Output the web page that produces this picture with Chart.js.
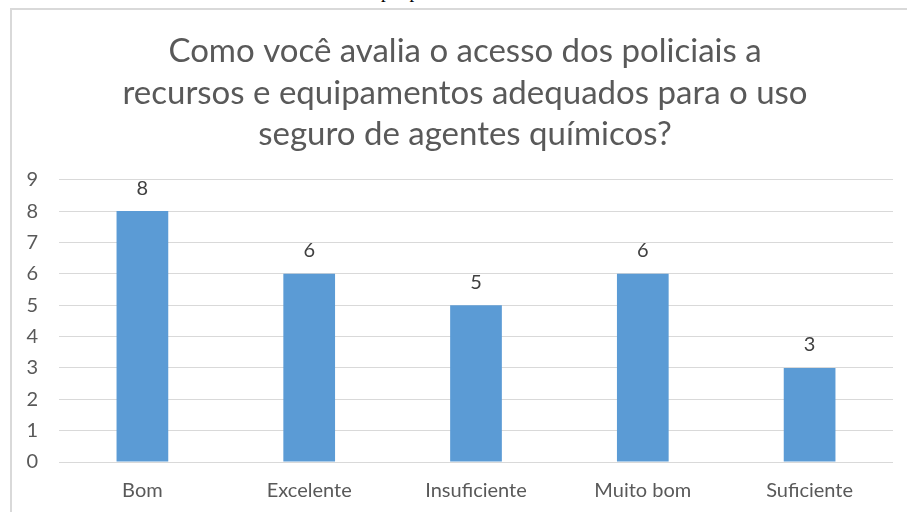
<!DOCTYPE html>
<html>
<head>
<meta charset="utf-8">
<script src="https://cdn.jsdelivr.net/npm/chart.js@4"></script>
<style>
  body { margin: 0; background: #fff; }
  .wrap { position: relative; width: 907px; height: 512px; overflow: hidden; }
  .frame { position: absolute; left: 10px; top: 8px; width: 910px; height: 520px; border: 2px solid #d9d9d9; box-sizing: border-box; }
  .cut { position: absolute; left: 381px; top: -19px; font: 19px "Liberation Serif"; color: #000; }
  canvas { position: absolute; left: 0; top: 0; }
</style>
</head>
<body>
<div class="wrap">
  <div class="cut">poup</div>
  <div class="frame"></div>
  <canvas id="myChart" width="907" height="512"></canvas>
</div>
<script>
const categorias = ['Bom', 'Excelente', 'Insuficiente', 'Muito bom', 'Suficiente'];
const respostas = [8, 6, 5, 6, 3];
const titulo = ['Como você avalia o acesso dos policiais a', 'recursos e equipamentos adequados para o uso', 'seguro de agentes químicos?'];

const ctx = document.getElementById("myChart");

// rótulo de valor em cima de cada barra
const valoresPlugin = {
  id: 'valores',
  afterLayout(chart) {
    // centra o título um pouco mais à direita, como no original
    chart.titleBlock.left = 37;
    chart.titleBlock.right = chart.chartArea.right;
  },
  afterDatasetsDraw(chart) {
    const c = chart.ctx;
    const meta = chart.getDatasetMeta(0);
    c.save();
    c.font = '20px Lato';
    c.fillStyle = '#404040';
    c.textAlign = 'center';
    c.textBaseline = 'middle';
    meta.data.forEach((bar, i) => {
      c.fillText(chart.data.datasets[0].data[i], bar.x, bar.y - 23);
    });
    c.restore();
  }
};

let myChart = new Chart(ctx, {
  type: 'bar',
  data: {
    labels: categorias,
    datasets: [{
      data: respostas,
      backgroundColor: '#5B9BD5',
      borderWidth: 0,
      categoryPercentage: 1,
      barPercentage: 0.31
    }]
  },
  options: {
    responsive: false,
    animation: false,
    layout: { padding: { left: 0, right: 14, top: 0, bottom: 0 } },
    plugins: {
      legend: { display: false },
      tooltip: { enabled: false },
      title: {
        display: true,
        text: titulo,
        color: '#595959',
        font: { family: 'Lato', size: 33, weight: 'normal', lineHeight: 1.27 },
        padding: { top: 30, bottom: 24 }
      }
    },
    scales: {
      x: {
        grid: { display: false },
        border: { display: false },
        ticks: { color: '#595959', font: { family: 'Lato', size: 20 }, padding: 9 },
        afterFit: (s) => { s.height = 50; }
      },
      y: {
        min: 0,
        max: 9,
        grid: { color: '#d9d9d9', drawTicks: false },
        border: { display: false },
        ticks: { stepSize: 1, color: '#595959', font: { family: 'Lato', size: 20 }, padding: 21 },
        afterFit: (s) => { s.width = 59; }
      }
    }
  },
  plugins: [valoresPlugin]
});
</script>
</body>
</html>
